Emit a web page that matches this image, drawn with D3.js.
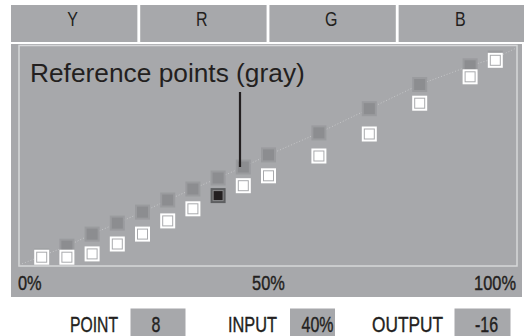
<!DOCTYPE html>
<html>
<head>
<meta charset="utf-8">
<script src="https://cdn.jsdelivr.net/npm/d3@7"></script>
<style>
  html, body { margin: 0; padding: 0; background: #ffffff; }
  svg { display: block; }
  text { font-family: "Liberation Sans", Arial, Helvetica, sans-serif; }
  .heavy { stroke: #231f20; stroke-width: 0.4px; }
</style>
</head>
<body>
<svg id="chart" width="524" height="336"></svg>
<script>
// Channel tabs
const channels = ["Y", "R", "G", "B"];

// Tone-curve control points: input level (%) and output level (0–200 units)
const inputs    = [5, 10, 15, 20, 25, 30, 35, 40, 45, 50, 60, 70, 80, 90, 95];
const refOutput = [9, 18, 29, 39, 49, 60, 70, 80, 90, 101, 121, 143, 165, 182, 189];
const output    = [8, 8, 11, 20, 29, 41, 52, 64, 73, 82, 100, 120, 148, 172, 187];

// Axis tick labels
const tickValues = [0, 50, 100];
const tickLabels = ["0%", "50%", "100%"];

// Currently selected point (0-based)
const selected = 7;

const INK = "#231f20";
const PANEL = "#a7a8ab";
const FRAME = "#d6d7d9";

const svg = d3.select("#chart");

// condensed text: a horizontally squeezed group around each label
function condensed(sel, sx) {
  return sel.attr("transform", d => `translate(${d.x},${d.y}) scale(${sx},1)`);
}

// ---- channel tabs ----
const tabX = d3.scaleBand().domain(channels).range([11, 525]).paddingInner(0.022).paddingOuter(0);
const tabs = svg.append("g");
tabs.selectAll("rect").data(channels).join("rect")
  .attr("x", d => tabX(d)).attr("y", 5)
  .attr("width", tabX.bandwidth()).attr("height", 37)
  .attr("fill", PANEL);
condensed(tabs.selectAll("g").data(channels.map(c => ({ c, x: tabX(c) + tabX.bandwidth() / 2 - 1.5, y: 26.3 }))).join("g"), 0.82)
  .append("text")
  .attr("text-anchor", "middle")
  .attr("font-size", 19.5)
  .attr("fill", INK)
  .text(d => d.c);

// ---- main panel ----
svg.append("rect").attr("x", 11).attr("y", 44).attr("width", 511).attr("height", 253).attr("fill", PANEL);

const frame = { x0: 19, x1: 517, y0: 45.5, y1: 266 };

const x = d3.scaleLinear().domain([0, 100]).range([16.5, 520.5]);
const y = d3.scaleLinear().domain([0, 200]).range([266, 46]);

svg.append("defs").append("clipPath").attr("id", "plotClip")
  .append("rect")
  .attr("x", frame.x0).attr("y", frame.y0)
  .attr("width", frame.x1 - frame.x0).attr("height", frame.y1 - frame.y0);

// frame
svg.append("rect")
  .attr("x", frame.x0).attr("y", frame.y0)
  .attr("width", frame.x1 - frame.x0).attr("height", frame.y1 - frame.y0)
  .attr("fill", "none").attr("stroke", FRAME).attr("stroke-width", 1.5);

// dotted reference curve through the gray points
const refPts = [[0, 0]].concat(inputs.map((d, i) => [d, refOutput[i]]), [[100, 200]]);
svg.append("path")
  .attr("clip-path", "url(#plotClip)")
  .attr("d", d3.line().x(d => x(d[0])).y(d => y(d[1]))(refPts))
  .attr("fill", "none")
  .attr("stroke", "#c6c7c9")
  .attr("stroke-width", 1)
  .attr("stroke-dasharray", "1 2");

const S = 15; // square side

// gray reference squares
const grayG = svg.append("g");
grayG.selectAll("rect.outer").data(inputs).join("rect")
  .attr("class", "outer")
  .attr("x", (d) => x(d) - S / 2)
  .attr("y", (d, i) => y(refOutput[i]) - S / 2)
  .attr("width", S).attr("height", S)
  .attr("fill", "#9a9b9e");
grayG.selectAll("rect.inner").data(inputs).join("rect")
  .attr("class", "inner")
  .attr("x", (d) => x(d) - S / 2 + 2)
  .attr("y", (d, i) => y(refOutput[i]) - S / 2 + 2)
  .attr("width", S - 4).attr("height", S - 4)
  .attr("fill", "#8c8d90");

// adjusted (white) squares, selected one drawn dark
const pts = inputs.map((d, i) => ({ i, input: d, out: output[i] }));
const wg = svg.append("g");
wg.selectAll("rect.outer").data(pts).join("rect")
  .attr("class", "outer")
  .attr("x", d => x(d.input) - S / 2)
  .attr("y", d => y(d.out) - S / 2)
  .attr("width", S).attr("height", S)
  .attr("fill", d => d.i === selected ? "#5e5f61" : "#ffffff");
wg.selectAll("rect.inner").data(pts).join("rect")
  .attr("class", "inner")
  .attr("x", d => x(d.input) - S / 2 + 2.5)
  .attr("y", d => y(d.out) - S / 2 + 2.5)
  .attr("width", S - 5).attr("height", S - 5)
  .attr("fill", d => d.i === selected ? INK : "#ffffff")
  .attr("stroke", d => d.i === selected ? "#8a8b8d" : "#a9aaad")
  .attr("stroke-width", 1);

// annotation
svg.append("text")
  .attr("x", 30).attr("y", 82)
  .attr("font-size", 26.3)
  .attr("fill", INK)
  .text("Reference points (gray)");
svg.append("line")
  .attr("x1", 240).attr("x2", 240)
  .attr("y1", 92).attr("y2", y(refOutput[8]))
  .attr("stroke", INK).attr("stroke-width", 2.2);

// x tick labels
const anchors = ["start", "middle", "end"];
const tickData = tickValues.map((v, i) => ({
  label: tickLabels[i], anchor: anchors[i],
  x: Math.max(frame.x0 - 1, Math.min(frame.x1 - 1, x(v))), y: 289.5
}));
condensed(svg.append("g").selectAll("g").data(tickData).join("g"), 0.78)
  .append("text")
  .attr("class", "heavy")
  .attr("text-anchor", d => d.anchor)
  .attr("font-size", 21)
  .attr("fill", INK)
  .text(d => d.label);

// ---- readout row ----
const readLabels = ["POINT", "INPUT", "OUTPUT"];
const readValues = [String(selected + 1), inputs[selected] + "%", String(output[selected] - refOutput[selected])];
const labelPos = [{ x: 70, w: 48 }, { x: 228, w: 49 }, { x: 372, w: 71 }];
const boxPos = [{ x: 130.5, w: 55, tx: 156 }, { x: 290, w: 45, tx: 317.5 }, { x: 454.5, w: 56, tx: 486.5 }];

const row = svg.append("g");
row.selectAll("rect").data(boxPos).join("rect")
  .attr("x", d => d.x).attr("y", 308.5)
  .attr("width", d => d.w).attr("height", 30)
  .attr("fill", PANEL);
row.selectAll("text.lab").data(readLabels).join("text")
  .attr("class", "lab heavy")
  .attr("x", (d, i) => labelPos[i].x)
  .attr("y", 331.5)
  .attr("font-size", 22.5)
  .attr("textLength", (d, i) => labelPos[i].w)
  .attr("lengthAdjust", "spacingAndGlyphs")
  .attr("fill", INK)
  .text(d => d);
condensed(row.selectAll("g.val").data(readValues.map((v, i) => ({ v, x: boxPos[i].tx, y: 331.5 }))).join("g").attr("class", "val"), 0.71)
  .append("text")
  .attr("class", "heavy")
  .attr("text-anchor", "middle")
  .attr("font-size", 22.5)
  .attr("fill", INK)
  .text(d => d.v);
</script>
</body>
</html>
